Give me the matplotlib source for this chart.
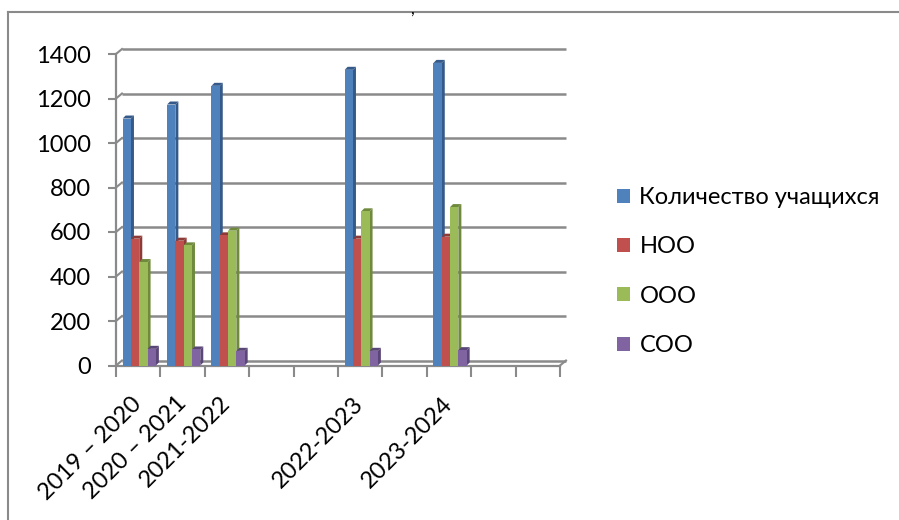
import numpy as np
import matplotlib
matplotlib.use("Agg")
import matplotlib.pyplot as plt
from matplotlib.patches import Polygon, Patch
from matplotlib.lines import Line2D

plt.rcParams['font.family'] = ['Lato', 'DejaVu Sans']

# ---------------- data ----------------
categories = ["2019 – 2020", "2020 – 2021", "2021-2022", "", "",
              "2022-2023", "", "2023-2024", "", ""]
series_names = ["Количество учащихся", "НОО", "ООО", "СОО"]
total = [1110, 1173, 1257, np.nan, np.nan, 1329, np.nan, 1360, np.nan, np.nan]
noo = [570, 561, 585, np.nan, np.nan, 570, np.nan, 579, np.nan, np.nan]
ooo = [465, 540, 606, np.nan, np.nan, 693, np.nan, 712, np.nan, np.nan]
soo = [75, 72, 66, np.nan, np.nan, 66, np.nan, 69, np.nan, np.nan]
yticks = [0, 200, 400, 600, 800, 1000, 1200, 1400]

series = [total, noo, ooo, soo]
front_colors = ["#4F81BD", "#C0504D", "#9BBB59", "#8064A2"]
side_colors = ["#355A8A", "#8E3A37", "#6F8A3C", "#5A4677"]
grid_color = "#8A8A8A"

W, H = 899, 520
fig = plt.figure(figsize=(W / 100, H / 100), dpi=100)

ax_l, ax_r, ax_t, ax_b = 116, 560, 54, 365.5
ax = fig.add_axes([ax_l / W, (H - ax_b) / H, (ax_r - ax_l) / W, (ax_b - ax_t) / H])
n = len(categories)
ax.set_xlim(0, n)
ax.set_ylim(0, 1400)

# pixel -> data unit conversions
px_x = n / (ax_r - ax_l)
px_y = 1400 / (ax_b - ax_t)
wall_dx, wall_dy = 6 * px_x, 5 * px_y
bar_dx, bar_dy = 3 * px_x, 3 * px_y

# back wall gridlines + connectors
for v in yticks:
    ax.plot([wall_dx, n + wall_dx], [v + wall_dy, v + wall_dy], color=grid_color,
            lw=1.8, solid_capstyle='butt', clip_on=False, zorder=1)
    ax.plot([0, wall_dx], [v, v + wall_dy], color=grid_color, lw=1.5,
            clip_on=False, zorder=1)
# right floor connector
ax.plot([n, n + wall_dx], [0, wall_dy], color=grid_color, lw=1.5, clip_on=False, zorder=1)

# bars
bw = 0.187
start = 0.15
for i in range(n):
    for j, vals in enumerate(series):
        v = vals[i]
        if np.isnan(v):
            continue
        x = i + start + j * bw
        ax.add_patch(Polygon([(x + bw, 0), (x + bw + bar_dx, bar_dy),
                              (x + bw + bar_dx, v + bar_dy), (x + bw, v)],
                             closed=True, facecolor=side_colors[j], edgecolor='none',
                             zorder=3 + j))
        ax.add_patch(Polygon([(x, v), (x + bar_dx, v + bar_dy),
                              (x + bw + bar_dx, v + bar_dy), (x + bw, v)],
                             closed=True, facecolor=side_colors[j], edgecolor='none',
                             zorder=3 + j))
        ax.bar(x, v, width=bw, align='edge', color=front_colors[j],
               edgecolor='none', zorder=3 + j)

# front axes lines
ax.plot([0, 0], [0, 1400], color=grid_color, lw=1.6, clip_on=False, zorder=2)
ax.plot([0, n], [0, 0], color=grid_color, lw=1.6, clip_on=False, zorder=2)

for s in ax.spines.values():
    s.set_visible(False)
ax.set_facecolor('none')

ax.set_yticks(yticks)
ax.set_yticklabels([str(v) for v in yticks])
ax.tick_params(axis='y', length=6, width=1.5, color=grid_color, pad=12,
               labelsize=17, labelcolor='black')

ax.set_xticks(range(n + 1))
ax.set_xticklabels([])
ax.set_xticks([i + 0.5 for i in range(n)], minor=True)
ax.set_xticklabels(categories, minor=True, rotation=45, ha='right', va='center',
                   rotation_mode='anchor')
ax.tick_params(axis='x', which='major', length=8, width=1.5, color=grid_color)
ax.tick_params(axis='x', which='minor', length=0, pad=25, labelsize=17,
               labelcolor='black')

# legend
handles = [Patch(facecolor=c, edgecolor='none') for c in front_colors]
fig.legend(handles, series_names, loc='upper left',
           bbox_to_anchor=(617 / W, 1 - 187 / H), frameon=False, fontsize=17,
           handlelength=0.55, handleheight=0.55, handletextpad=0.4,
           labelspacing=1.2, borderaxespad=0, borderpad=0)

# outer frame
fig.add_artist(Line2D([8 / W, 1], [1 - 12 / H, 1 - 12 / H], color=grid_color, lw=1.5))
fig.add_artist(Line2D([8 / W, 8 / W], [0, 1 - 12 / H], color=grid_color, lw=1.5))
# fragment of cut-off title
fig.text(412 / W, 1 - 0.5 / H, ",", fontsize=12, ha='center', va='top')

fig.savefig("out.png", dpi=100)
